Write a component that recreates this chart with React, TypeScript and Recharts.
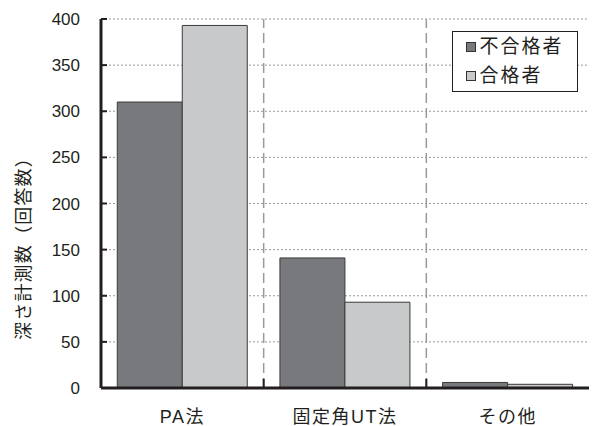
import { BarChart, Bar, XAxis, YAxis, CartesianGrid, Legend, ReferenceLine, Label } from "recharts";

// Depth-measurement answers by inspection method, split by pass/fail
const CATEGORIES = ["PA法", "固定角UT法", "その他"];
const FAILED = [310, 141, 6];
const PASSED = [393, 93, 4];
const Y_TICKS = [0, 50, 100, 150, 200, 250, 300, 350, 400];

const SERIES = [
  { key: "failed", name: "不合格者", fill: "#78797c" },
  { key: "passed", name: "合格者", fill: "#c8c9cb" },
];

const DATA = CATEGORIES.map((name, i) => ({ name, failed: FAILED[i], passed: PASSED[i] }));

const FONT = "'Liberation Sans', 'Noto Sans CJK JP', sans-serif";
const INK = "#231f20";

function YTick(props: any) {
  const { x, y, payload } = props;
  return (
    <g>
      <line x1={x + 21} x2={x + 27} y1={y} y2={y} stroke={INK} strokeWidth={2} />
      <text x={x} y={y} dy="0.36em" textAnchor="end" fontSize={17} fill={INK} fontFamily={FONT}>
        {payload.value}
      </text>
    </g>
  );
}

function XTick(props: any) {
  const { x, y, payload } = props;
  return (
    <text x={x} y={y + 33} textAnchor="middle" fontSize={18} letterSpacing={1.5} fill={INK} fontFamily={FONT}>
      {payload.value}
    </text>
  );
}

function LegendBox() {
  return (
    <div
      style={{
        boxSizing: "border-box",
        width: 126,
        height: 61,
        border: `1.5px solid ${INK}`,
        background: "#fff",
        paddingLeft: 12.5,
        fontFamily: FONT,
      }}
    >
      {SERIES.map((s) => (
        <div key={s.key} style={{ display: "flex", alignItems: "center", height: 29 }}>
          <span
            style={{
              display: "inline-block",
              boxSizing: "border-box",
              width: 10,
              height: 10,
              background: s.fill,
              border: "1px solid #333",
              marginRight: 4,
            }}
          />
          <span style={{ fontSize: 19, letterSpacing: 2, color: INK, lineHeight: "29px" }}>{s.name}</span>
        </div>
      ))}
    </div>
  );
}

export default function App() {
  return (
    <div style={{ position: "absolute", left: 0, top: 0, background: "#fff" }}>
      <BarChart
        width={592}
        height={426}
        data={DATA}
        margin={{ top: 19, right: 3, left: 0, bottom: 0 }}
        barCategoryGap="10%"
        barGap={0}
      >
        <CartesianGrid vertical={false} stroke="#9a9a9a" strokeDasharray="2 2" />
        <XAxis
          dataKey="name"
          height={38}
          axisLine={{ stroke: INK, strokeWidth: 3 }}
          tickLine={false}
          tickSize={0}
          tick={<XTick />}
        />
        <XAxis xAxisId="top" dataKey="name" orientation="top" height={0} tick={false} tickLine={false}
          axisLine={{ stroke: INK, strokeWidth: 3 }} />
        <YAxis
          domain={[0, 400]}
          ticks={Y_TICKS}
          width={101}
          axisLine={{ stroke: INK, strokeWidth: 3 }}
          tickLine={false}
          tickSize={0}
          tickMargin={21}
          tick={<YTick />}
          interval={0}
        >
          <Label
            content={() => (
              <text
                x={24}
                y={244}
                transform="rotate(-90, 24, 244)"
                textAnchor="middle"
                dominantBaseline="central"
                fontSize={18}
                letterSpacing={1.2}
                fill={INK}
                fontFamily={FONT}
              >
                深さ計測数（回答数）
              </text>
            )}
          />
        </YAxis>
        <YAxis yAxisId="right" orientation="right" width={0} domain={[0, 400]} tick={false} tickLine={false}
          axisLine={{ stroke: "#333", strokeWidth: 1.5 }} />
        {CATEGORIES.slice(1).map((c) => (
          <ReferenceLine key={c} x={c} position="start" stroke="#9a9a9a" strokeWidth={1.5} strokeDasharray="10 5" />
        ))}
        {CATEGORIES.slice(1).map((c) => (
          <ReferenceLine
            key={`tick-${c}`}
            segment={[{ x: c, y: 0 }, { x: c, y: 10 }]}
            position="start"
            stroke={INK}
            strokeWidth={2}
          />
        ))}
        {SERIES.map((s) => (
          <Bar
            key={s.key}
            dataKey={s.key}
            name={s.name}
            fill={s.fill}
            stroke="#3a3a3a"
            strokeWidth={1}
            isAnimationActive={false}
          />
        ))}
        <Legend
          layout="vertical"
          align="center"
          verticalAlign="middle"
          wrapperStyle={{ top: 31, left: 452, width: 126 }}
          content={() => <LegendBox />}
        />
      </BarChart>
    </div>
  );
}
